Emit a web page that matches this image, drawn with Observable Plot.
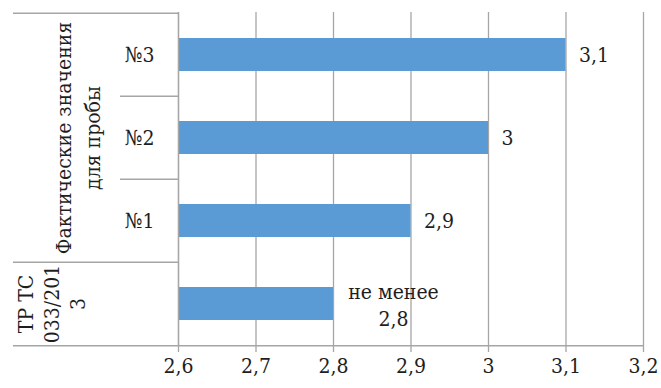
<!DOCTYPE html>
<html><head><meta charset="utf-8">
<script src="https://cdn.jsdelivr.net/npm/d3@7"></script>
<script src="https://cdn.jsdelivr.net/npm/@observablehq/plot@0.6"></script>
<style>
body{margin:0;background:#fff}
#chart svg text { font-stretch: condensed; }
</style>
</head><body><div id="chart"></div>
<script>
const categories = ["№3", "№2", "№1", "ТР"];
const values = [3.1, 3.0, 2.9, 2.8];
const valueLabels = ["3,1", "3", "2,9", "не менее\n2,8"];
const sampleLabels = ["№3", "№2", "№1"];
const groupLabels = [
  {cat: "№2", text: "Фактические значения\nдля пробы"},
  {cat: "ТР", text: "ТР ТС\n033/201\n3"}
];
const xTicks = [2.6, 2.7, 2.8, 2.9, 3.0, 3.1, 3.2];
const xTickLabels = ["2,6", "2,7", "2,8", "2,9", "3", "3,1", "3,2"];

const W = 661, H = 388, mt = 12, mb = 42, ml = 178, mr = 18;
const step = (H - mt - mb) / categories.length;
const data = categories.map((c, i) => ({cat: c, v: values[i], label: valueLabels[i]}));
const grid = "#a6a6a6";
const ink = "#1e1e1e";
const tickFmt = (d) => xTickLabels[xTicks.findIndex(t => Math.abs(t - d) < 1e-9)];
const FONT = "'DejaVu Serif Condensed', 'DejaVu Serif', serif";
const FS = 21;

const plot = Plot.plot({
  width: W, height: H,
  marginTop: mt, marginBottom: mb, marginLeft: ml, marginRight: mr,
  style: {fontSize: FS + "px", color: ink, background: "#fff", fontFamily: FONT},
  x: {domain: [2.6, 3.2], label: null},
  y: {domain: categories, paddingInner: 0.6, paddingOuter: 0.3, axis: null},
  marks: [
    Plot.ruleX(xTicks, {x: d => d, stroke: grid, strokeWidth: 1.3}),
    Plot.ruleY([categories[3]], {y: d => d, dy: step/2, x1: 2.6, x2: 3.2, insetLeft: -165, stroke: grid, strokeWidth: 1.3}),
    Plot.axisX({ticks: xTicks, tickFormat: tickFmt, tickSize: 6, tickPadding: 6, stroke: grid, strokeWidth: 1.3, fontSize: FS, fill: ink, label: null}),
    Plot.barX(data, {y: "cat", x1: 2.6, x2: "v", fill: "#5b9bd5"}),
    Plot.text(data.slice(0, 3), {y: "cat", x: "v", text: "label", textAnchor: "start", dx: 13, fontSize: FS, fill: ink}),
    Plot.text(data.slice(3), {y: "cat", x: "v", text: "label", textAnchor: "middle", dx: 60, lineHeight: 1.3, fontSize: FS, fill: ink}),
    Plot.text(sampleLabels, {y: d => d, x: 2.6, dx: -39, textAnchor: "middle", fontSize: FS, fill: ink}),
    Plot.text(groupLabels.slice(0, 1), {y: "cat", x: 2.6, dx: -102, text: "text", rotate: -90, textAnchor: "middle", lineHeight: 1.38, fontSize: FS, fill: ink}),
    Plot.text(groupLabels.slice(1), {y: "cat", x: 2.6, dx: -128, text: "text", rotate: -90, textAnchor: "middle", lineHeight: 1.25, fontSize: FS, fill: ink}),
    Plot.ruleY([categories[0], categories[3]], {y: d => d, dy: -step/2, x1: 2.6, x2: 2.6, insetLeft: -165, stroke: grid, strokeWidth: 1.3}),
    Plot.ruleY([categories[1], categories[2]], {y: d => d, dy: -step/2, x1: 2.6, x2: 2.6, insetLeft: -58, stroke: grid, strokeWidth: 1.3}),
    Plot.ruleX([2.6], {x: d => d, stroke: grid, strokeWidth: 1.3})
  ]
});
document.getElementById("chart").appendChild(plot);
</script>
</body></html>
